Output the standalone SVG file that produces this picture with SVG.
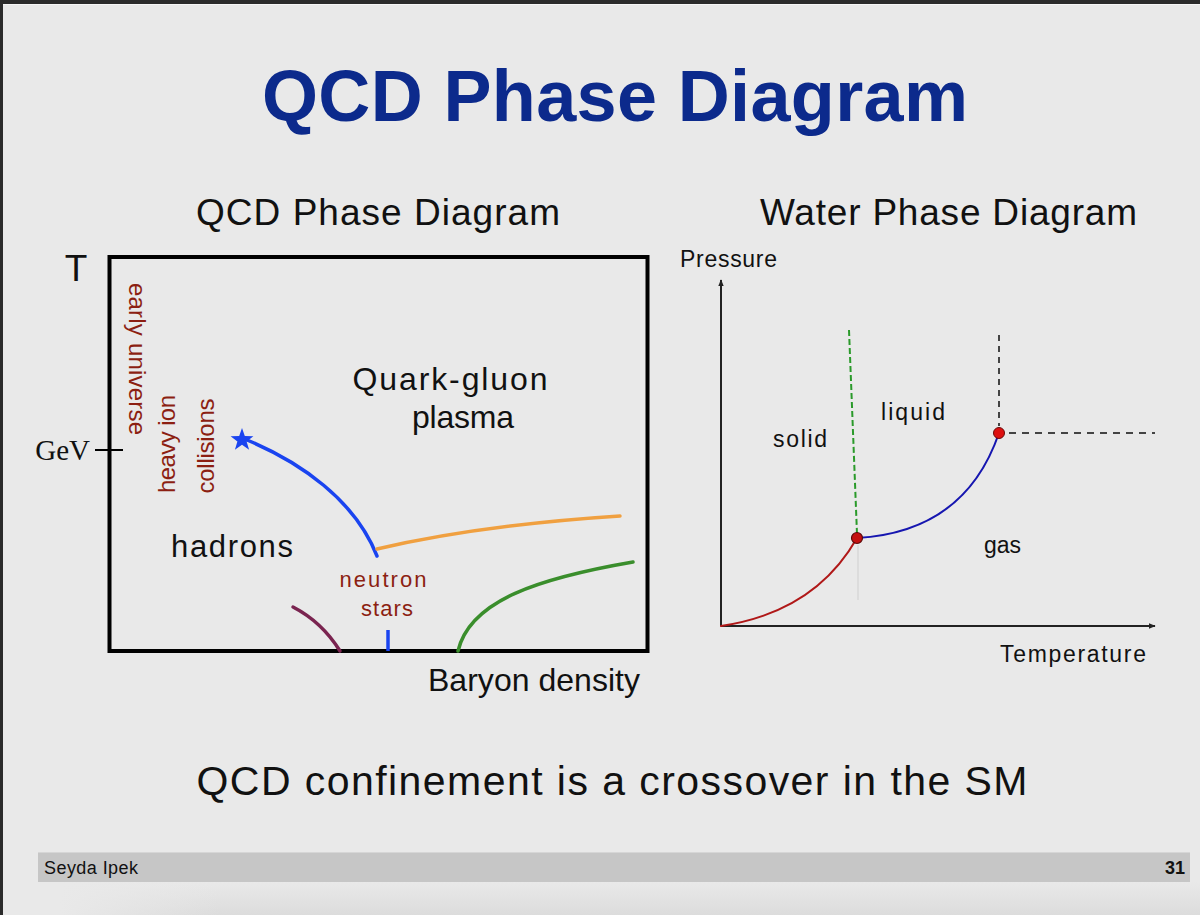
<svg xmlns="http://www.w3.org/2000/svg" width="1200" height="915" viewBox="0 0 1200 915">
<defs>
<style>
.sans{font-family:"Liberation Sans","Open Sans",sans-serif;}
.serif{font-family:"Liberation Serif","DejaVu Serif",serif;}
.brown{fill:#8c1f12;}
.blk{fill:#111;}
.curve{fill:none;stroke-linecap:round;}
</style>
<marker id="arr" viewBox="0 0 10 10" refX="9" refY="5" markerWidth="7" markerHeight="7" orient="auto" markerUnits="userSpaceOnUse">
<path d="M0,1 L10,5 L0,9 Z" fill="#222"/>
</marker>
<linearGradient id="shadow" x1="0" y1="0" x2="0" y2="1">
<stop offset="0" stop-color="#e9e9e9"/>
<stop offset="1" stop-color="#dcdcdc"/>
</linearGradient>
<linearGradient id="shadowL" x1="0" y1="0" x2="1" y2="0">
<stop offset="0" stop-color="#e9e9e9" stop-opacity="1"/>
<stop offset="1" stop-color="#e9e9e9" stop-opacity="0"/>
</linearGradient>
</defs>

<!-- background -->
<rect x="0" y="0" width="1200" height="915" fill="#e9e9e9"/>
<rect x="60" y="882" width="1140" height="33" fill="url(#shadow)"/>
<rect x="60" y="882" width="160" height="33" fill="url(#shadowL)"/>
<rect x="0" y="0" width="1200" height="4" fill="#2b2b2b"/>
<rect x="0" y="4" width="1200" height="1" fill="#f6f6f6"/>
<rect x="0" y="0" width="3" height="915" fill="#2b2b2b"/>

<!-- title -->
<g id="title">
<text x="615" y="121" text-anchor="middle" class="sans" font-size="72" font-weight="bold" fill="#0c2a8c" textLength="706">QCD Phase Diagram</text>
</g>

<g id="subtitles">
<text x="196" y="225" class="sans" font-size="37" fill="#111" textLength="364">QCD Phase Diagram</text>
<text x="760" y="225" class="sans" font-size="37" fill="#111" textLength="377">Water Phase Diagram</text>
</g>

<!-- QCD diagram -->
<g id="qcd-axes">
<rect x="109.5" y="257" width="538" height="394" fill="none" stroke="#000" stroke-width="4"/>
<line x1="95" y1="450" x2="123" y2="450" stroke="#000" stroke-width="2"/>
<text x="76" y="281" text-anchor="middle" class="sans blk" font-size="37">T</text>
<text x="90" y="460" text-anchor="end" class="serif blk" font-size="29">GeV</text>
<text x="534" y="691" text-anchor="middle" class="sans blk" font-size="32" textLength="212">Baryon density</text>
</g>

<g id="qcd-curves">
<path class="curve" d="M247,440 C300,462 355,500 377,556" stroke="#1a44f0" stroke-width="3.5"/>
<path class="curve" d="M377,549 Q480,525 620,516" stroke="#f0a040" stroke-width="3.5"/>
<path class="curve" d="M458,651 C470,600 540,578 633,562" stroke="#3a8e2c" stroke-width="3.5"/>
<path class="curve" d="M293,607 Q322,622 340,651" stroke="#7a2450" stroke-width="3.5"/>
<line x1="388" y1="630" x2="388" y2="651" stroke="#1a44f0" stroke-width="3.5"/>
<path d="M0,-12 L2.8,-3.9 L11.4,-3.7 L4.6,1.5 L7.1,9.7 L0,4.8 L-7.1,9.7 L-4.6,1.5 L-11.4,-3.7 L-2.8,-3.9 Z" transform="translate(242,440)" fill="#1a44f0"/>
</g>

<g id="qcd-labels">
<text transform="translate(129,359) rotate(90)" text-anchor="middle" class="sans brown" font-size="24" textLength="152">early universe</text>
<text transform="translate(175,444) rotate(-90)" text-anchor="middle" class="sans brown" font-size="24" textLength="98">heavy ion</text>
<text transform="translate(214,446) rotate(-90)" text-anchor="middle" class="sans brown" font-size="24" textLength="95">collisions</text>
<text x="383" y="587" text-anchor="middle" class="sans brown" font-size="22" textLength="87">neutron</text>
<text x="387" y="616" text-anchor="middle" class="sans brown" font-size="22" textLength="52">stars</text>
<text x="232" y="557" text-anchor="middle" class="sans blk" font-size="31" textLength="122">hadrons</text>
<text x="450" y="390" text-anchor="middle" class="sans blk" font-size="32" textLength="195">Quark-gluon</text>
<text x="463" y="428" text-anchor="middle" class="sans blk" font-size="32" textLength="102">plasma</text>
</g>

<!-- Water diagram -->
<g id="water-axes">
<line x1="721" y1="626" x2="721" y2="280" stroke="#222" stroke-width="2" marker-end="url(#arr)"/>
<line x1="721" y1="626" x2="1155" y2="626" stroke="#222" stroke-width="2" marker-end="url(#arr)"/>
<text x="680" y="267" class="sans blk" font-size="23" textLength="97">Pressure</text>
<text x="1000" y="662" class="sans blk" font-size="23" textLength="146">Temperature</text>
</g>

<g id="water-curves">
<line x1="858" y1="545" x2="858" y2="600" stroke="#cfcfcf" stroke-width="1"/>
<path class="curve" d="M721,626 Q815,612 857,538" stroke="#b01818" stroke-width="2"/>
<path class="curve" d="M857,538 Q965,532 999,433" stroke="#1616b0" stroke-width="2"/>
<line x1="849" y1="330" x2="857" y2="534" stroke="#2a9a2a" stroke-width="2" stroke-dasharray="6,3"/>
<line x1="999" y1="335" x2="999" y2="426" stroke="#444" stroke-width="2" stroke-dasharray="6,5"/>
<line x1="1009" y1="433" x2="1155" y2="433" stroke="#444" stroke-width="2" stroke-dasharray="7,6"/>
<circle cx="857" cy="538" r="5.5" fill="#c41010" stroke="#5a0a0a" stroke-width="1.2"/>
<circle cx="999" cy="433" r="5.5" fill="#dd1010" stroke="#6a0a0a" stroke-width="1"/>
</g>

<g id="water-labels">
<text x="773" y="447" class="sans blk" font-size="23" textLength="54">solid</text>
<text x="881" y="420" class="sans blk" font-size="23" textLength="64">liquid</text>
<text x="984" y="553" class="sans blk" font-size="23" textLength="37">gas</text>
</g>

<g id="caption">
<text x="612" y="795" text-anchor="middle" class="sans blk" font-size="41" textLength="831">QCD confinement is a crossover in the SM</text>
</g>

<g id="footer">
<rect x="38" y="852" width="1152" height="30" fill="#c6c6c6"/>
<rect x="38" y="852" width="1152" height="1" fill="#d6d6d6"/>
<text x="44" y="874" class="sans blk" font-size="18" textLength="94">Seyda Ipek</text>
<text x="1185" y="874" text-anchor="end" class="sans blk" font-size="18" font-weight="bold">31</text>
</g>
</svg>
